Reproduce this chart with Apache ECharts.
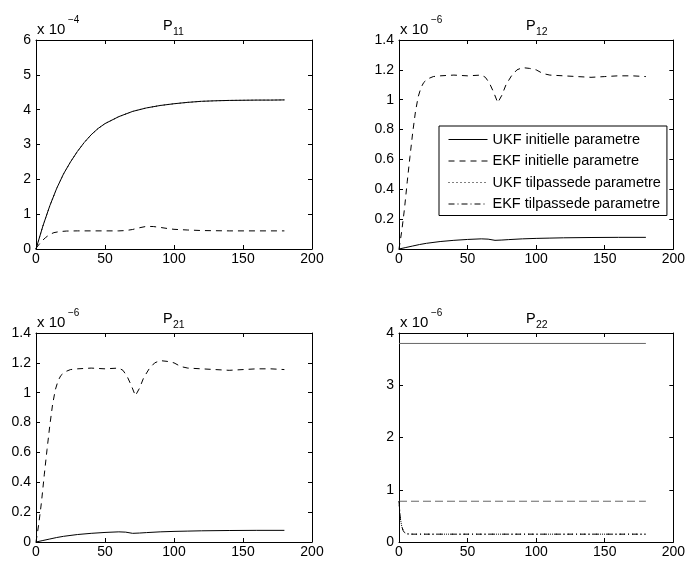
<!DOCTYPE html>
<html>
<head>
<meta charset="utf-8">
<script src="https://cdn.jsdelivr.net/npm/echarts@6.0.0/dist/echarts.min.js"></script>
<style>
  html, body { margin: 0; padding: 0; background: #fff; }
  #chart { width: 688px; height: 562px; }
</style>
</head>
<body>
<div id="chart"></div>
<script>
// legend names
const names = ['UKF initielle parametre', 'EKF initielle parametre', 'UKF tilpassede parametre', 'EKF tilpassede parametre'];

// P11 (x 1e-4)
const p11UkfX = [0, 5, 10, 15, 20, 25, 30, 35, 40, 45, 50, 60, 70, 80, 90, 100, 110, 120, 130, 140, 150, 160, 170, 180];
const p11Ukf  = [0, 0.66, 1.24, 1.74, 2.16, 2.5, 2.8, 3.06, 3.28, 3.46, 3.6, 3.8, 3.95, 4.05, 4.12, 4.17, 4.21, 4.24, 4.255, 4.265, 4.27, 4.275, 4.275, 4.28];
const p11EkfX = [0, 2, 4, 7, 10, 13, 17, 22, 30, 40, 50, 60, 65, 70, 75, 80, 85, 90, 95, 100, 110, 120, 140, 160, 180];
const p11Ekf  = [0.02, 0.12, 0.22, 0.33, 0.42, 0.47, 0.5, 0.515, 0.52, 0.52, 0.52, 0.52, 0.53, 0.56, 0.61, 0.65, 0.645, 0.62, 0.59, 0.565, 0.545, 0.53, 0.52, 0.52, 0.52];

// P12 / P21 (x 1e-6)
const p12EkfX = [0, 2, 4, 6, 8, 10, 12, 14, 16, 18, 21, 25, 30, 40, 50, 60, 63, 66, 69, 72, 75, 78, 82, 86, 90, 95, 100, 105, 110, 120, 130, 140, 150, 160, 170, 180];
const p12Ekf  = [0, 0.12, 0.27, 0.45, 0.62, 0.78, 0.92, 1.02, 1.08, 1.115, 1.14, 1.155, 1.16, 1.165, 1.16, 1.165, 1.15, 1.11, 1.05, 0.98, 1.03, 1.1, 1.16, 1.2, 1.215, 1.21, 1.2, 1.175, 1.165, 1.16, 1.155, 1.15, 1.155, 1.16, 1.16, 1.155];
const p12UkfX = [0, 5, 10, 15, 20, 30, 40, 50, 60, 65, 70, 75, 80, 90, 100, 110, 120, 140, 160, 180];
const p12Ukf  = [0, 0.01, 0.02, 0.03, 0.038, 0.05, 0.058, 0.064, 0.068, 0.066, 0.058, 0.06, 0.063, 0.068, 0.071, 0.073, 0.075, 0.077, 0.078, 0.078];
const p21EkfX = p12EkfX, p21Ekf = p12Ekf, p21UkfX = p12UkfX, p21Ukf = p12Ukf;

// P22 (x 1e-6)
const p22InitX = [0, 180];
const p22Ukf   = [3.8, 3.8];
const p22Ekf   = [0.78, 0.78];
const p22TilpX = [0, 0.5, 1, 2, 3, 4, 6, 10, 180];
const p22Tilp  = [0.78, 0.6, 0.45, 0.3, 0.22, 0.18, 0.155, 0.15, 0.15];

// axis setup per panel
const panels = [
  { sub: '11', exp: '\u22124', yMax: 6, yStep: 1 },
  { sub: '12', exp: '\u22126', yMax: 1.4, yStep: 0.2 },
  { sub: '21', exp: '\u22126', yMax: 1.4, yStep: 0.2 },
  { sub: '22', exp: '\u22126', yMax: 4, yStep: 1 }
];
const xMax = 200, xStep = 50;

const font = 'Liberation Sans, Arial, Helvetica, sans-serif';
const boxes = [[36, 40], [399, 40], [36, 333], [399, 333]];
const W = 276, H = 209;

const chart = echarts.init(document.getElementById('chart'));

function pairs(xs, ys) { return xs.map((x, i) => [x, ys[i]]); }

function line(name, g, xs, ys, type, color) {
  return {
    name: name, type: 'line', xAxisIndex: g * 2, yAxisIndex: g * 2,
    data: pairs(xs, ys), symbol: 'none', showSymbol: false,
    lineStyle: { color: color || '#000', width: 1, type: type },
    itemStyle: { color: color || '#000' },
    silent: true, emphasis: { disabled: true }, z: 3
  };
}

const dash = [6, 5], longDash = [8, 4], dot = [1, 3], dashDot = [6, 3, 1, 3];

// the EKF curves in P12/P21 (and the UKF ones everywhere) lie on top of each other,
// so only the visible style is drawn there
const series = [
  line(names[0], 0, p11UkfX, p11Ukf, 'solid'),
  line(names[1], 0, p11EkfX, p11Ekf, dash),
  line(names[2], 0, p11UkfX, p11Ukf, dot),

  line(names[0], 1, p12UkfX, p12Ukf, 'solid'),
  line(names[1], 1, p12EkfX, p12Ekf, dash),

  line(names[0], 2, p21UkfX, p21Ukf, 'solid'),
  line(names[1], 2, p21EkfX, p21Ekf, dash),

  line(names[0], 3, p22InitX, p22Ukf, 'solid', '#666'),
  line(names[1], 3, p22InitX, p22Ekf, longDash, '#666'),
  line(names[2], 3, p22TilpX, p22Tilp, dot),
  line(names[3], 3, p22TilpX, p22Tilp, dashDot)
];

const grid = [], xAxis = [], yAxis = [], graphic = [];
const tick = { inside: true, length: 4, lineStyle: { color: '#000', width: 1 } };
const axLine = { onZero: false, lineStyle: { color: '#000', width: 1 } };
const lbl = { color: '#000', fontSize: 14, fontFamily: font };

panels.forEach((p, i) => {
  const [gx, gy] = boxes[i];
  grid.push({ left: gx, top: gy, width: W, height: H, containLabel: false });
  ['bottom', 'top'].forEach(pos => xAxis.push({
    type: 'value', gridIndex: i, position: pos, min: 0, max: xMax, interval: xStep,
    axisLine: axLine, axisTick: tick, splitLine: { show: false },
    axisLabel: pos === 'bottom' ? Object.assign({ margin: 3 }, lbl) : { show: false }
  }));
  ['left', 'right'].forEach(pos => yAxis.push({
    type: 'value', gridIndex: i, position: pos, min: 0, max: p.yMax, interval: p.yStep,
    axisLine: axLine, axisTick: tick, splitLine: { show: false },
    axisLabel: pos === 'left' ? Object.assign({ margin: 5 }, lbl) : { show: false }
  }));
  const cx = gx + W / 2;
  graphic.push(
    { type: 'text', x: cx - 11, y: gy - 14.5, style: { text: 'P', font: '14.5px ' + font, fill: '#000', align: 'left', verticalAlign: 'middle' } },
    { type: 'text', x: cx - 1, y: gy - 7.5, style: { text: p.sub, font: '10.5px ' + font, fill: '#000', align: 'left', verticalAlign: 'middle' } },
    { type: 'text', x: gx + 1, y: gy - 10.5, style: { text: 'x 10', font: '15px ' + font, fill: '#000', align: 'left', verticalAlign: 'middle' } },
    { type: 'text', x: gx + 32, y: gy - 20, style: { text: p.exp, font: '10px ' + font, fill: '#000', align: 'left', verticalAlign: 'middle' } }
  );
});

chart.setOption({
  animation: false,
  backgroundColor: '#fff',
  grid: grid,
  xAxis: xAxis,
  yAxis: yAxis,
  legend: {
    data: names, orient: 'vertical', left: 439, top: 126,
    itemWidth: 39, itemHeight: 14, itemGap: 6.5,
    padding: [6, 6, 4, 9],
    borderColor: '#000', borderWidth: 1, borderRadius: 0, backgroundColor: '#fff',
    selectedMode: false,
    itemStyle: { opacity: 0 },
    lineStyle: { width: 1 },
    textStyle: { fontSize: 14.5, color: '#000', fontFamily: font }
  },
  graphic: graphic,
  series: series
});
</script>
</body>
</html>
